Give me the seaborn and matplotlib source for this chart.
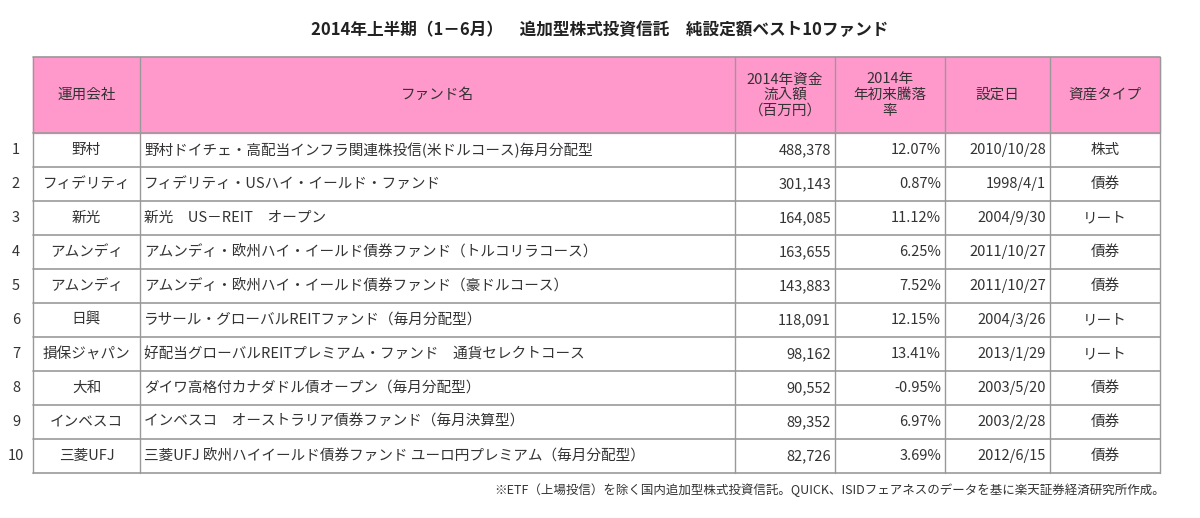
import matplotlib
matplotlib.use("Agg")
import matplotlib.pyplot as plt
import seaborn as sns

sns.set_theme(style="white")
plt.rcParams['font.family'] = ['Noto Sans CJK JP', 'DejaVu Sans']

title = "2014年上半期（1－6月）　追加型株式投資信託　純設定額ベスト10ファンド"
headers = ["運用会社", "ファンド名", "2014年資金\n流入額\n（百万円）", "2014年\n年初来騰落\n率", "設定日", "資産タイプ"]
companies = ["野村", "フィデリティ", "新光", "アムンディ", "アムンディ", "日興", "損保ジャパン", "大和", "インベスコ", "三菱UFJ"]
funds = ["野村ドイチェ・高配当インフラ関連株投信(米ドルコース)毎月分配型",
         "フィデリティ・USハイ・イールド・ファンド",
         "新光　US－REIT　オープン",
         "アムンディ・欧州ハイ・イールド債券ファンド（トルコリラコース）",
         "アムンディ・欧州ハイ・イールド債券ファンド（豪ドルコース）",
         "ラサール・グローバルREITファンド（毎月分配型）",
         "好配当グローバルREITプレミアム・ファンド　通貨セレクトコース",
         "ダイワ高格付カナダドル債オープン（毎月分配型）",
         "インベスコ　オーストラリア債券ファンド（毎月決算型）",
         "三菱UFJ 欧州ハイイールド債券ファンド ユーロ円プレミアム（毎月分配型）"]
inflows = [488378, 301143, 164085, 163655, 143883, 118091, 98162, 90552, 89352, 82726]
returns = [12.07, 0.87, 11.12, 6.25, 7.52, 12.15, 13.41, -0.95, 6.97, 3.69]
dates = ["2010/10/28", "1998/4/1", "2004/9/30", "2011/10/27", "2011/10/27", "2004/3/26", "2013/1/29", "2003/5/20", "2003/2/28", "2012/6/15"]
types = ["株式", "債券", "リート", "債券", "債券", "リート", "リート", "債券", "債券", "債券"]
note = "※ETF（上場投信）を除く国内追加型株式投資信託。QUICK、ISIDフェアネスのデータを基に楽天証券経済研究所作成。"

W, H = 1200, 518
fig = plt.figure(figsize=(12, 5.18), dpi=100)
ax = fig.add_axes([0, 0, 1, 1])
ax.set_xlim(0, W); ax.set_ylim(H, 0); ax.axis('off')

cols = [33, 140, 735, 835, 945, 1050, 1160]
top, hbot, rh = 57, 133, 34
n = len(companies)
bottom = hbot + rh * n
lc = "#999999"
ax.fill_between([cols[0], cols[-1]], top, hbot, color="#ff99cc", zorder=0)
for x in cols:
    ax.plot([x, x], [top, bottom], color=lc, lw=1)
for y in [top, hbot] + [hbot + rh * (i + 1) for i in range(n)]:
    ax.plot([cols[0], cols[-1]], [y, y], color=lc, lw=1.2)

fs = 10.5
ax.text(600, 30, title, ha='center', va='center', fontsize=12, fontweight='bold', color="#222")
for i, h in enumerate(headers):
    ax.text((cols[i] + cols[i + 1]) / 2, (top + hbot) / 2, h, ha='center', va='center', fontsize=fs, color="#333", linespacing=1.15)
for r in range(n):
    yc = hbot + rh * r + rh / 2
    ax.text(16, yc, str(r + 1), ha='center', va='center', fontsize=fs, color="#333")
    ax.text((cols[0] + cols[1]) / 2, yc, companies[r], ha='center', va='center', fontsize=fs, color="#333")
    ax.text(cols[1] + 4, yc, funds[r], ha='left', va='center', fontsize=fs, color="#333")
    ax.text(cols[3] - 4, yc, f"{inflows[r]:,}", ha='right', va='center', fontsize=fs, color="#333")
    ax.text(cols[4] - 4, yc, f"{returns[r]:.2f}%", ha='right', va='center', fontsize=fs, color="#333")
    ax.text(cols[5] - 4, yc, dates[r], ha='right', va='center', fontsize=fs, color="#333")
    ax.text((cols[5] + cols[6]) / 2, yc, types[r], ha='center', va='center', fontsize=fs, color="#333")
ax.text(1165, 490, note, ha='right', va='center', fontsize=9, color="#333")
fig.savefig("out.png", dpi=100, facecolor="white")
